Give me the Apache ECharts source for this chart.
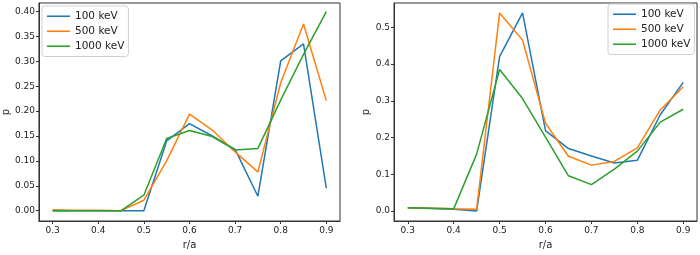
<!DOCTYPE html>
<html><head><meta charset="utf-8">
<script src="https://cdn.jsdelivr.net/npm/echarts@6/dist/echarts.min.js"></script>
<style>html,body{margin:0;padding:0;background:#fff}#c{width:700px;height:255px}</style>
</head><body><div id="c"></div>
<script>
const rA = [0.3,0.35,0.4,0.45,0.5,0.55,0.6,0.65,0.7,0.75,0.8,0.85,0.9];
const seriesNames = ['100 keV','500 keV','1000 keV'];
const colors = ['#1f77b4','#ff7f0e','#2ca02c'];
// left panel
const left100  = [0,0,0,0,0,0.140,0.175,0.150,0.123,0.029,0.301,0.335,0.045];
const left500  = [0.002,0.001,0.001,0.000,0.021,0.100,0.194,0.162,0.118,0.078,0.257,0.375,0.221];
const left1000 = [0,0,0,0,0.031,0.145,0.161,0.149,0.122,0.125,0.222,0.314,0.400];
// right panel
const right100  = [0.009,0.007,0.005,0.000,0.420,0.539,0.219,0.170,0.150,0.131,0.138,0.262,0.350];
const right500  = [0.009,0.008,0.006,0.005,0.539,0.465,0.239,0.149,0.125,0.135,0.172,0.275,0.338];
const right1000 = [0.009,0.008,0.006,0.155,0.385,0.306,0.201,0.096,0.072,0.114,0.163,0.242,0.277];
const xTicks = [0.3,0.4,0.5,0.6,0.7,0.8,0.9];
const yTicksLeft = [0,0.05,0.1,0.15,0.2,0.25,0.3,0.35,0.4];
const yTicksRight = [0,0.1,0.2,0.3,0.4,0.5];

const FONT = 'DejaVu Sans';
const pair = (ys) => rA.map((x,i)=>[x, ys[i]]);
function xAxis(gi){
  return {type:'value', gridIndex:gi, min:0.27, max:0.93,
    name:'r/a', nameLocation:'middle', nameGap:19,
    nameTextStyle:{fontFamily:FONT,fontSize:10,color:'#222'},
    axisLine:{show:true,onZero:false,lineStyle:{color:'#333',width:1}},
    axisTick:{show:true,length:3,customValues:xTicks,lineStyle:{color:'#333'}},
    axisLabel:{customValues:xTicks,fontFamily:FONT,fontSize:9,color:'#222',margin:5,formatter:v=>v.toFixed(1)},
    splitLine:{show:false}};
}
function yAxis(gi,min,max,ticks,dec,gap){
  return {type:'value', gridIndex:gi, min:min, max:max,
    name:'p', nameLocation:'middle', nameGap:gap, nameRotate:90,
    nameTextStyle:{fontFamily:FONT,fontSize:10,color:'#222'},
    axisLine:{show:true,onZero:false,lineStyle:{color:'#333',width:1}},
    axisTick:{show:true,length:3,customValues:ticks,lineStyle:{color:'#333'}},
    axisLabel:{customValues:ticks,fontFamily:FONT,fontSize:9,color:'#222',margin:4,formatter:v=>v.toFixed(dec)},
    splitLine:{show:false}};
}
function legend(pos){
  return Object.assign({orient:'vertical', data:seriesNames, icon:'rect', itemWidth:23, itemHeight:1.6,
    itemGap:2.5, padding:[4,4,4,5], borderColor:'#d0d0d0', borderWidth:1, borderRadius:3,
    backgroundColor:'rgba(255,255,255,0.8)',
    textStyle:{fontFamily:FONT,fontSize:10.5,color:'#222',lineHeight:12.5, padding:[0,0,0,0]}}, pos);
}
const mk = (name, data, gi, ci) => ({name, type:'line', xAxisIndex:gi, yAxisIndex:gi, data:pair(data),
  showSymbol:false, symbol:'none', lineStyle:{width:1.5,color:colors[ci]}, itemStyle:{color:colors[ci]}, animation:false});

const chart = echarts.init(document.getElementById('c'), null, {renderer:'canvas'});
chart.setOption({
  animation:false,
  grid:[
    {left:36, top:3, width:304, height:225, show:true, borderColor:'#333', borderWidth:1, backgroundColor:'transparent'},
    {left:394, top:3, width:303, height:225, show:true, borderColor:'#333', borderWidth:1, backgroundColor:'transparent'}
  ],
  xAxis:[xAxis(0), xAxis(1)],
  yAxis:[yAxis(0,-0.0208,0.4172,yTicksLeft,2,26), yAxis(1,-0.027,0.566,yTicksRight,1,22)],
  legend:[legend({left:42, top:6}), legend({left:608, top:4})],
  series:[
    mk(seriesNames[0], left100, 0, 0), mk(seriesNames[1], left500, 0, 1), mk(seriesNames[2], left1000, 0, 2),
    mk(seriesNames[0], right100, 1, 0), mk(seriesNames[1], right500, 1, 1), mk(seriesNames[2], right1000, 1, 2)
  ]
});
</script></body></html>
